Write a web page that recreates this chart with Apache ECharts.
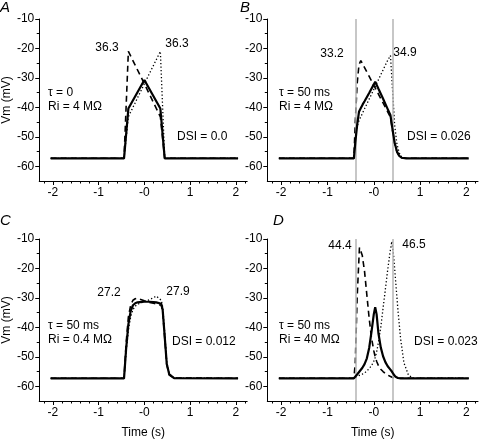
<!DOCTYPE html>
<html>
<head>
<meta charset="utf-8">
<script src="https://cdn.jsdelivr.net/npm/echarts@6/dist/echarts.min.js"></script>
<style>html,body{margin:0;padding:0;background:#fff}#c{width:480px;height:440px}</style>
</head>
<body>
<div id="c"></div>
<script>
// ---- tick values / labels ----
const xMajor = [-2, -1, 0, 1, 2];
const xTickLabels = ['-2', '-1', '-0', '1', '2'];
const xMinor = [-2.2, -1.8, -1.6, -1.4, -1.2, -0.8, -0.6, -0.4, -0.2, 0.2, 0.4, 0.6, 0.8, 1.2, 1.4, 1.6, 1.8, 2.2];
const yMajor = [-60, -50, -40, -30, -20, -10];
const yTickLabels = ['-60', '-50', '-40', '-30', '-20', '-10'];
const yMinor = [-55, -45, -35, -25, -15];
const markerTimes = [-0.4, 0.4];

// ---- Panel A: tau = 0, Ri = 4 MOhm ----
const timeA = [-2.05, -0.445, -0.35, 0.0, 0.35, 0.445, 2.05];
const solidA = [-57.3, -57.3, -40.4, -30.7, -40.4, -57.3, -57.3];
const dashedA = [-57.3, -57.3, -21.0, -32.0, -43.2, -57.3, -57.3];
const dottedA = [-57.3, -57.3, -43.2, -32.0, -21.0, -57.3, -57.3];

// ---- Panel B: tau = 50 ms, Ri = 4 MOhm ----
const timeB = [-2.05, -0.43, -0.4, -0.36, -0.32, -0.28, -0.24, -0.2, -0.1, 0.0, 0.03, 0.1, 0.2, 0.3, 0.36, 0.4, 0.45, 0.5, 0.55, 0.6, 0.7, 2.05];
const solidB = [-57.3, -57.3, -52, -46, -41.5, -40.2, -39, -37.9, -35.1, -32.2, -31.3, -33.7, -37.1, -40.6, -42.7, -47, -52, -55, -56.5, -57.1, -57.3, -57.3];
const dashedB = [-57.3, -57.3, -45, -32, -25.5, -24.1, -24.6, -26.5, -29.5, -32.5, -33.4, -35.5, -38.5, -41.5, -43.3, -47.5, -52.3, -55.2, -56.6, -57.1, -57.3, -57.3];
const dottedB = [-57.3, -57.3, -50, -46.5, -44.5, -43.2, -41.8, -40.5, -37.2, -33.9, -32.9, -30.6, -27.3, -24, -22.4, -33, -46, -52.5, -55.5, -56.8, -57.3, -57.3];

// ---- Panel C: tau = 50 ms, Ri = 0.4 MOhm ----
const timeC = [-2.05, -0.445, -0.4, -0.35, -0.3, -0.25, -0.2, -0.15, -0.1, 0, 0.1, 0.2, 0.26, 0.3, 0.37, 0.4, 0.435, 0.49, 0.545, 0.65, 2.05];
const solidC = [-57.3, -57.3, -47.5, -39, -34.5, -32.5, -31.8, -31.5, -31.4, -31.3, -31.3, -31.4, -31.5, -31.6, -32, -34, -41, -52.4, -56, -57.2, -57.3];
const dashedC = [-57.3, -57.3, -45.5, -36.5, -32.5, -30.8, -30.3, -30.1, -30.4, -31, -31.5, -31.8, -32, -32.1, -32.5, -34.5, -41.5, -52.6, -56.1, -57.2, -57.3];
const dottedC = [-57.3, -57.3, -48.5, -41, -36.5, -34, -32.8, -32.2, -31.8, -31.3, -30.7, -29.9, -29.4, -29.6, -30.8, -33, -39.5, -51.8, -55.8, -57.2, -57.3];

// ---- Panel D: tau = 50 ms, Ri = 40 MOhm ----
const timeD = [-2.05, -0.43, -0.4, -0.36, -0.31, -0.25, -0.2, -0.15, -0.1, -0.05, 0, 0.03, 0.06, 0.1, 0.15, 0.2, 0.25, 0.3, 0.35, 0.39, 0.43, 0.47, 0.52, 0.58, 0.65, 0.75, 0.85, 2.05];
const solidD = [-57.3, -57.3, -56.8, -56, -55, -53.8, -52.5, -50.5, -47, -41.5, -35.5, -33.2, -35.5, -42, -46.8, -49.8, -51.8, -53.2, -54.2, -55, -56, -56.8, -57.2, -57.3, -57.3, -57.3, -57.3, -57.3];
const dashedD = [-57.3, -57.3, -52, -30, -12.9, -15.5, -21, -29, -37, -43.5, -48, -50, -51.5, -53, -54.2, -55, -55.7, -56.2, -56.6, -57, -57.2, -57.3, -57.3, -57.3, -57.3, -57.3, -57.3, -57.3];
const dottedD = [-57.3, -57.3, -57, -56.7, -56.3, -55.9, -55.5, -54.8, -54, -53, -51.5, -50.2, -48.5, -45, -40, -33.5, -27, -20.5, -14.5, -10.8, -16, -24, -34, -44, -52, -56.3, -57.2, -57.3];

// ---- texts ----
const panelLetters = ['A', 'B', 'C', 'D'];
const peakLabels = [['36.3', '36.3'], ['33.2', '34.9'], ['27.2', '27.9'], ['44.4', '46.5']];
const tauLabels = ['τ = 0', 'τ = 50 ms', 'τ = 50 ms', 'τ = 50 ms'];
const riLabels = ['Ri = 4 MΩ', 'Ri = 4 MΩ', 'Ri = 0.4 MΩ', 'Ri = 40 MΩ'];
const dsiLabels = ['DSI = 0.0', 'DSI = 0.026', 'DSI = 0.012', 'DSI = 0.023'];

const FONT = '"Liberation Sans", Arial, Helvetica, sans-serif';
const chart = echarts.init(document.getElementById('c'), null, {renderer: 'canvas'});

const panels = [
  {t: timeA, s: solidA, d: dashedA, o: dottedA, marks: false},
  {t: timeB, s: solidB, d: dashedB, o: dottedB, marks: true},
  {t: timeC, s: solidC, d: dashedC, o: dottedC, marks: false},
  {t: timeD, s: solidD, d: dashedD, o: dottedD, marks: true}
];
const gridPos = [
  {left: 36.5, top: 19}, {left: 267.3, top: 19},
  {left: 36.5, top: 239}, {left: 267.3, top: 239}
];
const W = 210.7, H = 162;

const grids = [], xAxes = [], yAxes = [], series = [];
panels.forEach((p, i) => {
  grids.push({left: gridPos[i].left, top: gridPos[i].top, width: W, height: H, containLabel: false});
  const bottomRow = i >= 2, leftCol = i % 2 === 0;
  // major x axis
  xAxes.push({
    type: 'value', gridIndex: i, position: 'bottom', min: -2.3, max: 2.25,
    axisLine: {show: true, onZero: false, lineStyle: {color: '#000', width: 1}},
    axisTick: {show: true, length: 4, customValues: xMajor, lineStyle: {color: '#000'}},
    axisLabel: {show: true, customValues: xMajor, margin: 6, color: '#000', fontSize: 12, fontFamily: FONT,
      formatter: v => { const k = xMajor.findIndex(m => Math.abs(m - v) < 1e-6); return k >= 0 ? xTickLabels[k] : ''; }},
    splitLine: {show: false},
    name: bottomRow ? 'Time (s)' : '', nameLocation: 'middle', nameGap: 26,
    nameTextStyle: {color: '#000', fontSize: 12, fontFamily: FONT}
  });
  // minor x ticks
  xAxes.push({
    type: 'value', gridIndex: i, position: 'bottom', offset: 0, min: -2.3, max: 2.25,
    axisLine: {show: false, onZero: false},
    axisTick: {show: true, length: 2.5, customValues: xMinor, lineStyle: {color: '#000'}},
    axisLabel: {show: false}, splitLine: {show: false}
  });
  yAxes.push({
    type: 'value', gridIndex: i, position: 'left', min: -65, max: -10,
    axisLine: {show: true, onZero: false, lineStyle: {color: '#000', width: 1}},
    axisTick: {show: true, length: 4, customValues: yMajor, lineStyle: {color: '#000'}},
    axisLabel: {show: true, customValues: yMajor, margin: 5, color: '#000', fontSize: 12, fontFamily: FONT,
      formatter: v => { const k = yMajor.findIndex(m => Math.abs(m - v) < 1e-6); return k >= 0 ? yTickLabels[k] : ''; }},
    splitLine: {show: false},
    name: leftCol ? 'Vm (mV)' : '', nameLocation: 'middle', nameGap: 24, nameRotate: 90,
    nameTextStyle: {color: '#000', fontSize: 12, fontFamily: FONT}
  });
  yAxes.push({
    type: 'value', gridIndex: i, position: 'left', offset: 0, min: -65, max: -10,
    axisLine: {show: false, onZero: false},
    axisTick: {show: true, length: 2.5, customValues: yMinor, lineStyle: {color: '#000'}},
    axisLabel: {show: false}, splitLine: {show: false}
  });
  const xi = i * 2, yi = i * 2;
  const pairs = ys => p.t.map((t, k) => [t, ys[k]]);
  series.push({
    type: 'line', xAxisIndex: xi, yAxisIndex: yi, data: pairs(p.o), showSymbol: false, symbol: 'none',
    lineStyle: {color: '#000', width: 1.3, type: [1.3, 2.2]}, z: 3, silent: true,
    markLine: p.marks ? {
      silent: true, symbol: 'none', label: {show: false},
      lineStyle: {color: '#b4b4b4', width: 1.5, type: 'solid'},
      data: markerTimes.map(v => ({xAxis: v}))
    } : undefined
  });
  series.push({
    type: 'line', xAxisIndex: xi, yAxisIndex: yi, data: pairs(p.d), showSymbol: false, symbol: 'none',
    lineStyle: {color: '#000', width: 1.6, type: [6, 4]}, z: 4, silent: true
  });
  series.push({
    type: 'line', xAxisIndex: xi, yAxisIndex: yi, data: pairs(p.s), showSymbol: false, symbol: 'none',
    lineStyle: {color: '#000', width: 2.2}, z: 5, silent: true
  });
});

const txt = (text, x, y, align, extra) => ({
  type: 'text', x: x, y: y, silent: true, z: 100,
  style: Object.assign({text: text, fill: '#000', fontSize: 12, fontFamily: FONT, align: align || 'center', verticalAlign: 'middle'}, extra || {})
});
const letterPos = [[0, 8], [240, 8], [0, 221], [273, 221]];
const peakPos = [[[107, 48], [177, 44]], [[332, 54], [405, 53]], [[109, 293], [178, 292]], [[340, 246], [414, 245]]];
const tauPos = [[48, 93], [279, 93], [48, 326], [279, 326]];
const riPos = [[48, 107], [279, 107], [48, 340], [279, 340]];
const dsiPos = [[177, 137], [407, 137], [172, 342], [414, 342]];
const graphics = [];
for (let i = 0; i < 4; i++) {
  graphics.push(txt(panelLetters[i], letterPos[i][0], letterPos[i][1], 'left', {fontSize: 15, fontStyle: 'italic'}));
  graphics.push(txt(peakLabels[i][0], peakPos[i][0][0], peakPos[i][0][1]));
  graphics.push(txt(peakLabels[i][1], peakPos[i][1][0], peakPos[i][1][1]));
  graphics.push(txt(tauLabels[i], tauPos[i][0], tauPos[i][1], 'left'));
  graphics.push(txt(riLabels[i], riPos[i][0], riPos[i][1], 'left'));
  graphics.push(txt(dsiLabels[i], dsiPos[i][0], dsiPos[i][1], 'left'));
}

chart.setOption({
  animation: false,
  backgroundColor: '#fff',
  textStyle: {fontFamily: FONT},
  grid: grids, xAxis: xAxes, yAxis: yAxes, series: series,
  graphic: graphics
});
</script>
</body>
</html>
